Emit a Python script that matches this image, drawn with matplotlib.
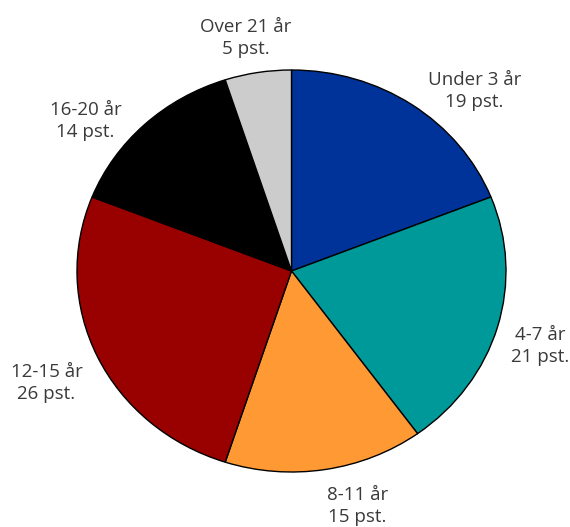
import matplotlib
matplotlib.use("Agg")
import matplotlib.pyplot as plt

# Aldersfordeling (pst.)
kategorier = ["Under 3 år", "4-7 år", "8-11 år", "12-15 år", "16-20 år", "Over 21 år"]
andeler = [19, 21, 15, 26, 14, 5]
farger = ["#003399", "#009999", "#ff9933", "#990000", "#000000", "#cccccc"]

# plassering av etikettene (dataenheter, ellipse)
etikett_pos = [(0.853, 0.896), (1.161, -0.373), (0.308, -1.169),
               (-1.142, -0.557), (-0.960, 0.746), (-0.214, 1.159)]

W, H = 570, 527
fig = plt.figure(figsize=(W / 100, H / 100), dpi=100)
# kakediagrammet er litt bredere enn det er høyt
ax = fig.add_axes([77 / W, (H - 472) / H, 429 / W, 402 / H])

ax.pie(andeler, colors=farger, startangle=90, counterclock=False,
       radius=1, wedgeprops=dict(edgecolor="black", linewidth=1))
ax.set_aspect("auto")
ax.set_xlim(-1, 1)
ax.set_ylim(-1, 1)
ax.axis("off")

for navn, verdi, (x, y) in zip(kategorier, andeler, etikett_pos):
    ax.text(x, y, f"{navn}\n{verdi} pst.", ha="center", va="center",
            fontsize=13.5, family="Open Sans", color="#3a3a3a",
            linespacing=1.3, clip_on=False)

fig.savefig("out.png", dpi=100)
